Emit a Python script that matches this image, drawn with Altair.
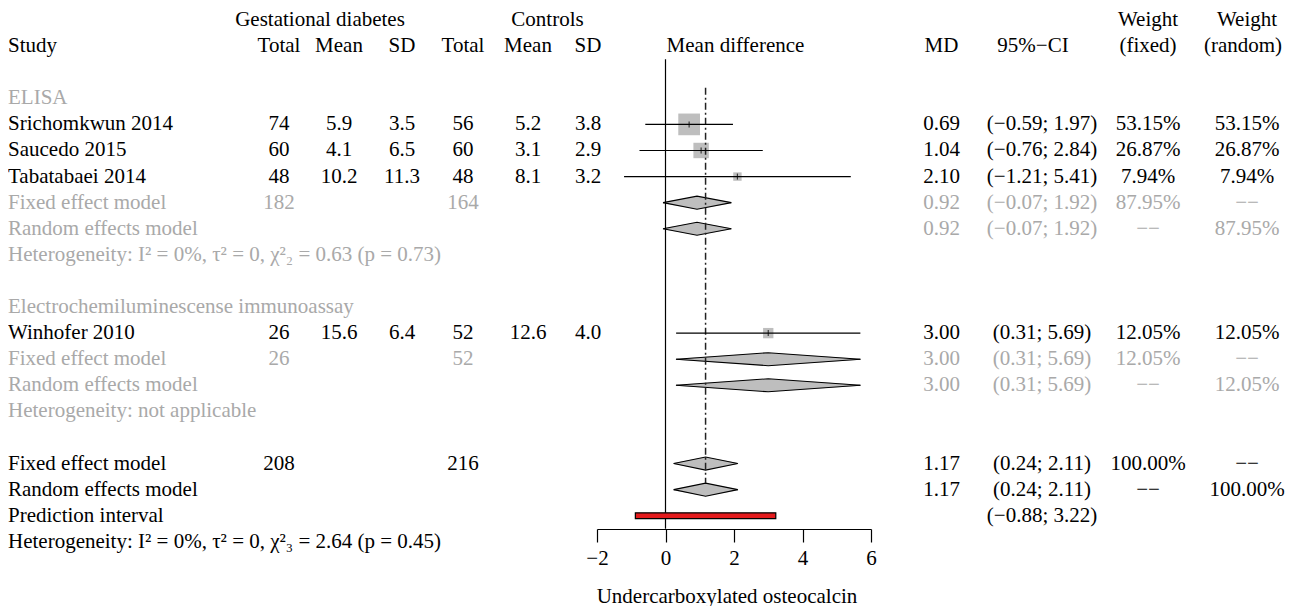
import altair as alt
import pandas as pd

FONT = "Liberation Serif"
FS = 21
GRAY = "#a9a9a9"
BLACK = "#000000"

# ---------------- data ----------------
studies = ["Srichomkwun 2014", "Saucedo 2015", "Tabatabaei 2014", "Winhofer 2010"]
study_rows = [1, 2, 3, 9]
gd_total = [74, 60, 48, 26]
gd_mean = [5.9, 4.1, 10.2, 15.6]
gd_sd = [3.5, 6.5, 11.3, 6.4]
ct_total = [56, 60, 48, 52]
ct_mean = [5.2, 3.1, 8.1, 12.6]
ct_sd = [3.8, 2.9, 3.2, 4.0]
md = [0.69, 1.04, 2.10, 3.00]
md_lo = [-0.59, -0.76, -1.21, 0.31]
md_hi = [1.97, 2.84, 5.41, 5.69]
w_fixed = [53.15, 26.87, 7.94, 12.05]
w_random = [53.15, 26.87, 7.94, 12.05]

pooled_labels = ["Fixed effect model", "Random effects model",
                 "Fixed effect model", "Random effects model",
                 "Fixed effect model", "Random effects model"]
pooled_rows = [4, 5, 10, 11, 14, 15]
pooled_md = [0.92, 0.92, 3.00, 3.00, 1.17, 1.17]
pooled_lo = [-0.07, -0.07, 0.31, 0.31, 0.24, 0.24]
pooled_hi = [1.92, 1.92, 5.69, 5.69, 2.11, 2.11]
pooled_wf = [87.95, None, 12.05, None, 100.00, None]
pooled_wr = [None, 87.95, None, 12.05, None, 100.00]
pooled_gd_total = [182, None, 26, None, 208, None]
pooled_ct_total = [164, None, 52, None, 216, None]
pooled_gray = [True, True, True, True, False, False]

subgroup_labels = ["ELISA", "Electrochemiluminescense immunoassay"]
subgroup_rows = [0, 8]

het_texts = ["Heterogeneity: I\u00b2 = 0%, \u03c4\u00b2 = 0, \u03c7\u00b2\u2082 = 0.63 (p = 0.73)",
             "Heterogeneity: not applicable",
             "Heterogeneity: I\u00b2 = 0%, \u03c4\u00b2 = 0, \u03c7\u00b2\u2083 = 2.64 (p = 0.45)"]
het_rows = [6, 12, 17]
het_gray = [True, True, False]

pred_label = "Prediction interval"
pred_row = 16
pred_lo, pred_hi = -0.88, 3.22

x_ticks = [-2, 0, 2, 4, 6]
null_value = 0

# ---------------- layout constants ----------------
ROW0 = 90.3
STEP = 26.09
DH = 0.25     # diamond half height (rows)
PH = 0.11     # prediction bar half height (rows)

yscale = alt.Scale(domain=[-3, 17], range=[ROW0 - 3 * STEP, ROW0 + 17 * STEP], nice=False, zero=False)
xscale = alt.Scale(domain=[-2, 6], range=[589, 863], nice=False, zero=False)
x_axis = alt.Axis(values=x_ticks, title="Undercarboxylated osteocalcin", grid=False,
                  domainColor="black", domainWidth=1.2, tickColor="black", tickWidth=1.2,
                  tickSize=13, labelFont=FONT, labelFontSize=FS, labelColor="black",
                  labelPadding=5, labelFlush=False, labelOverlap=False,
                  titleFont=FONT, titleFontSize=FS, titleFontWeight="normal", titleColor="black",
                  titlePadding=17, titleX=718.5)


def X(f):
    return alt.X(f, type="quantitative", scale=xscale, axis=x_axis)


def Y(f):
    return alt.Y(f, type="quantitative", scale=yscale, axis=None)


def fmt(v, d=2):
    return f"{v:.{d}f}".replace("-", "\u2212")


# ---------------- text table ----------------
recs = []


def add(row, col, text, gray=False):
    recs.append({"row": row, "col": col, "text": text, "color": GRAY if gray else BLACK})


add(-3, "gd_group", "Gestational diabetes")
add(-3, "ct_group", "Controls")
add(-3, "wf", "Weight")
add(-3, "wr", "Weight")
add(-2, "study", "Study")
add(-2, "gd_total", "Total")
add(-2, "gd_mean", "Mean")
add(-2, "gd_sd", "SD")
add(-2, "ct_total", "Total")
add(-2, "ct_mean", "Mean")
add(-2, "ct_sd", "SD")
add(-2, "forest", "Mean difference")
add(-2, "md", "MD")
add(-2, "ci_head", "95%\u2212CI")
add(-2, "wf", "(fixed)")
add(-2, "wr_head", "(random)")

for lab, r in zip(subgroup_labels, subgroup_rows):
    add(r, "study", lab, True)

for i, r in enumerate(study_rows):
    add(r, "study", studies[i])
    add(r, "gd_total", str(gd_total[i]))
    add(r, "gd_mean", fmt(gd_mean[i], 1))
    add(r, "gd_sd", fmt(gd_sd[i], 1))
    add(r, "ct_total", str(ct_total[i]))
    add(r, "ct_mean", fmt(ct_mean[i], 1))
    add(r, "ct_sd", fmt(ct_sd[i], 1))
    add(r, "md", fmt(md[i]))
    add(r, "ci", f"({fmt(md_lo[i])}; {fmt(md_hi[i])})")
    add(r, "wf", fmt(w_fixed[i]) + "%")
    add(r, "wr", fmt(w_random[i]) + "%")

for i, r in enumerate(pooled_rows):
    g = pooled_gray[i]
    add(r, "study", pooled_labels[i], g)
    if pooled_gd_total[i] is not None:
        add(r, "gd_total", str(pooled_gd_total[i]), g)
    if pooled_ct_total[i] is not None:
        add(r, "ct_total", str(pooled_ct_total[i]), g)
    add(r, "md", fmt(pooled_md[i]), g)
    add(r, "ci", f"({fmt(pooled_lo[i])}; {fmt(pooled_hi[i])})", g)
    add(r, "wf", fmt(pooled_wf[i]) + "%" if pooled_wf[i] is not None else "\u2212\u2212", g)
    add(r, "wr", fmt(pooled_wr[i]) + "%" if pooled_wr[i] is not None else "\u2212\u2212", g)

for t, r, g in zip(het_texts, het_rows, het_gray):
    add(r, "study", t, g)

add(pred_row, "study", pred_label)
add(pred_row, "ci", f"({fmt(pred_lo)}; {fmt(pred_hi)})")

text_df = pd.DataFrame(recs)

col_pos = {
    "study": (0, "left"),
    "gd_group": (312, "center"),
    "gd_total": (271, "center"),
    "gd_mean": (331, "center"),
    "gd_sd": (394, "center"),
    "ct_group": (539.5, "center"),
    "ct_total": (455, "center"),
    "ct_mean": (520, "center"),
    "ct_sd": (580, "center"),
    "forest": (727.5, "center"),
    "md": (933.5, "center"),
    "ci_head": (1025, "center"),
    "ci": (1034, "center"),
    "wf": (1140, "center"),
    "wr": (1239, "center"),
    "wr_head": (1235, "center"),
}

layers = []

# ---------------- forest graphics ----------------
study_df = pd.DataFrame({"row": study_rows, "md": md, "lo": md_lo, "hi": md_hi, "w": w_fixed})

layers.append(alt.Chart(study_df).mark_square(color="#bebebe", opacity=1).encode(
    x=X("md"), y=Y("row"),
    size=alt.Size("w:Q", scale=alt.Scale(domain=[0, 100], range=[0, 886]), legend=None)))

# diamonds: fill as a variable-width trail, outline as two polylines
trail_pts = []
edge_pts = []
for i, (r, e, l, h) in enumerate(zip(pooled_rows, pooled_md, pooled_lo, pooled_hi)):
    trail_pts += [{"id": i, "x": l, "row": r, "s": 0},
                  {"id": i, "x": e, "row": r, "s": 1},
                  {"id": i, "x": h, "row": r, "s": 0}]
    for side, sgn in (("top", -1), ("bottom", 1)):
        edge_pts += [{"id": f"{i}{side}", "x": l, "row": r},
                     {"id": f"{i}{side}", "x": e, "row": r + sgn * DH},
                     {"id": f"{i}{side}", "x": h, "row": r}]
trail_df = pd.DataFrame(trail_pts)
edge_df = pd.DataFrame(edge_pts)

layers.append(alt.Chart(trail_df).mark_trail(color="#bebebe", opacity=1).encode(
    x=X("x"), y=Y("row"), detail="id:N", order=alt.Order("x:Q"),
    size=alt.Size("s:Q", scale=alt.Scale(domain=[0, 1], range=[0, 2 * DH * STEP]), legend=None)))

layers.append(alt.Chart(edge_df).mark_line(color="black", strokeWidth=1.1).encode(
    x=X("x"), y=Y("row"), detail="id:N", order=alt.Order("x:Q")))

# reference lines drawn over the diamonds
zero_df = pd.DataFrame({"x": [null_value], "y": [-1.5], "y2": [16.5]})
layers.append(alt.Chart(zero_df).mark_rule(color="black", strokeWidth=1.2).encode(
    x=X("x"), y=Y("y"), y2="y2"))

ref_df = pd.DataFrame({"x": [pooled_md[4]], "y": [-0.4], "y2": [pooled_rows[5] - DH]})
layers.append(alt.Chart(ref_df).mark_rule(color="#222222", strokeWidth=1.5, strokeDash=[7, 3, 2, 3]).encode(
    x=X("x"), y=Y("y"), y2="y2"))

# study CIs and point ticks
layers.append(alt.Chart(study_df).mark_rule(color="black", strokeWidth=1.2).encode(
    x=X("lo"), x2="hi", y=Y("row")))

layers.append(alt.Chart(study_df).mark_tick(orient="vertical", color="black", size=6, thickness=1.2).encode(
    x=X("md"), y=Y("row")))

pred_df = pd.DataFrame({"lo": [pred_lo], "hi": [pred_hi], "y": [pred_row - PH], "y2": [pred_row + PH]})
layers.append(alt.Chart(pred_df).mark_rect(fill="#e41a1c", stroke="black", strokeWidth=1.2).encode(
    x=X("lo"), x2="hi", y=Y("y"), y2="y2"))

# ---------------- text layers ----------------
for col, (px, align) in col_pos.items():
    sub = text_df[text_df["col"] == col]
    if sub.empty:
        continue
    layers.append(alt.Chart(sub).mark_text(align=align, baseline="middle", font=FONT, fontSize=FS).encode(
        x=alt.value(px), y=Y("row"), text="text:N", color=alt.Color("color:N", scale=None)))

chart = (alt.layer(*layers)
         .resolve_scale(size="independent")
         .properties(width=1284, height=521, padding=0)
         .configure_view(stroke=None))

chart.save("out.html", embed_options={"renderer": "svg", "actions": False})
